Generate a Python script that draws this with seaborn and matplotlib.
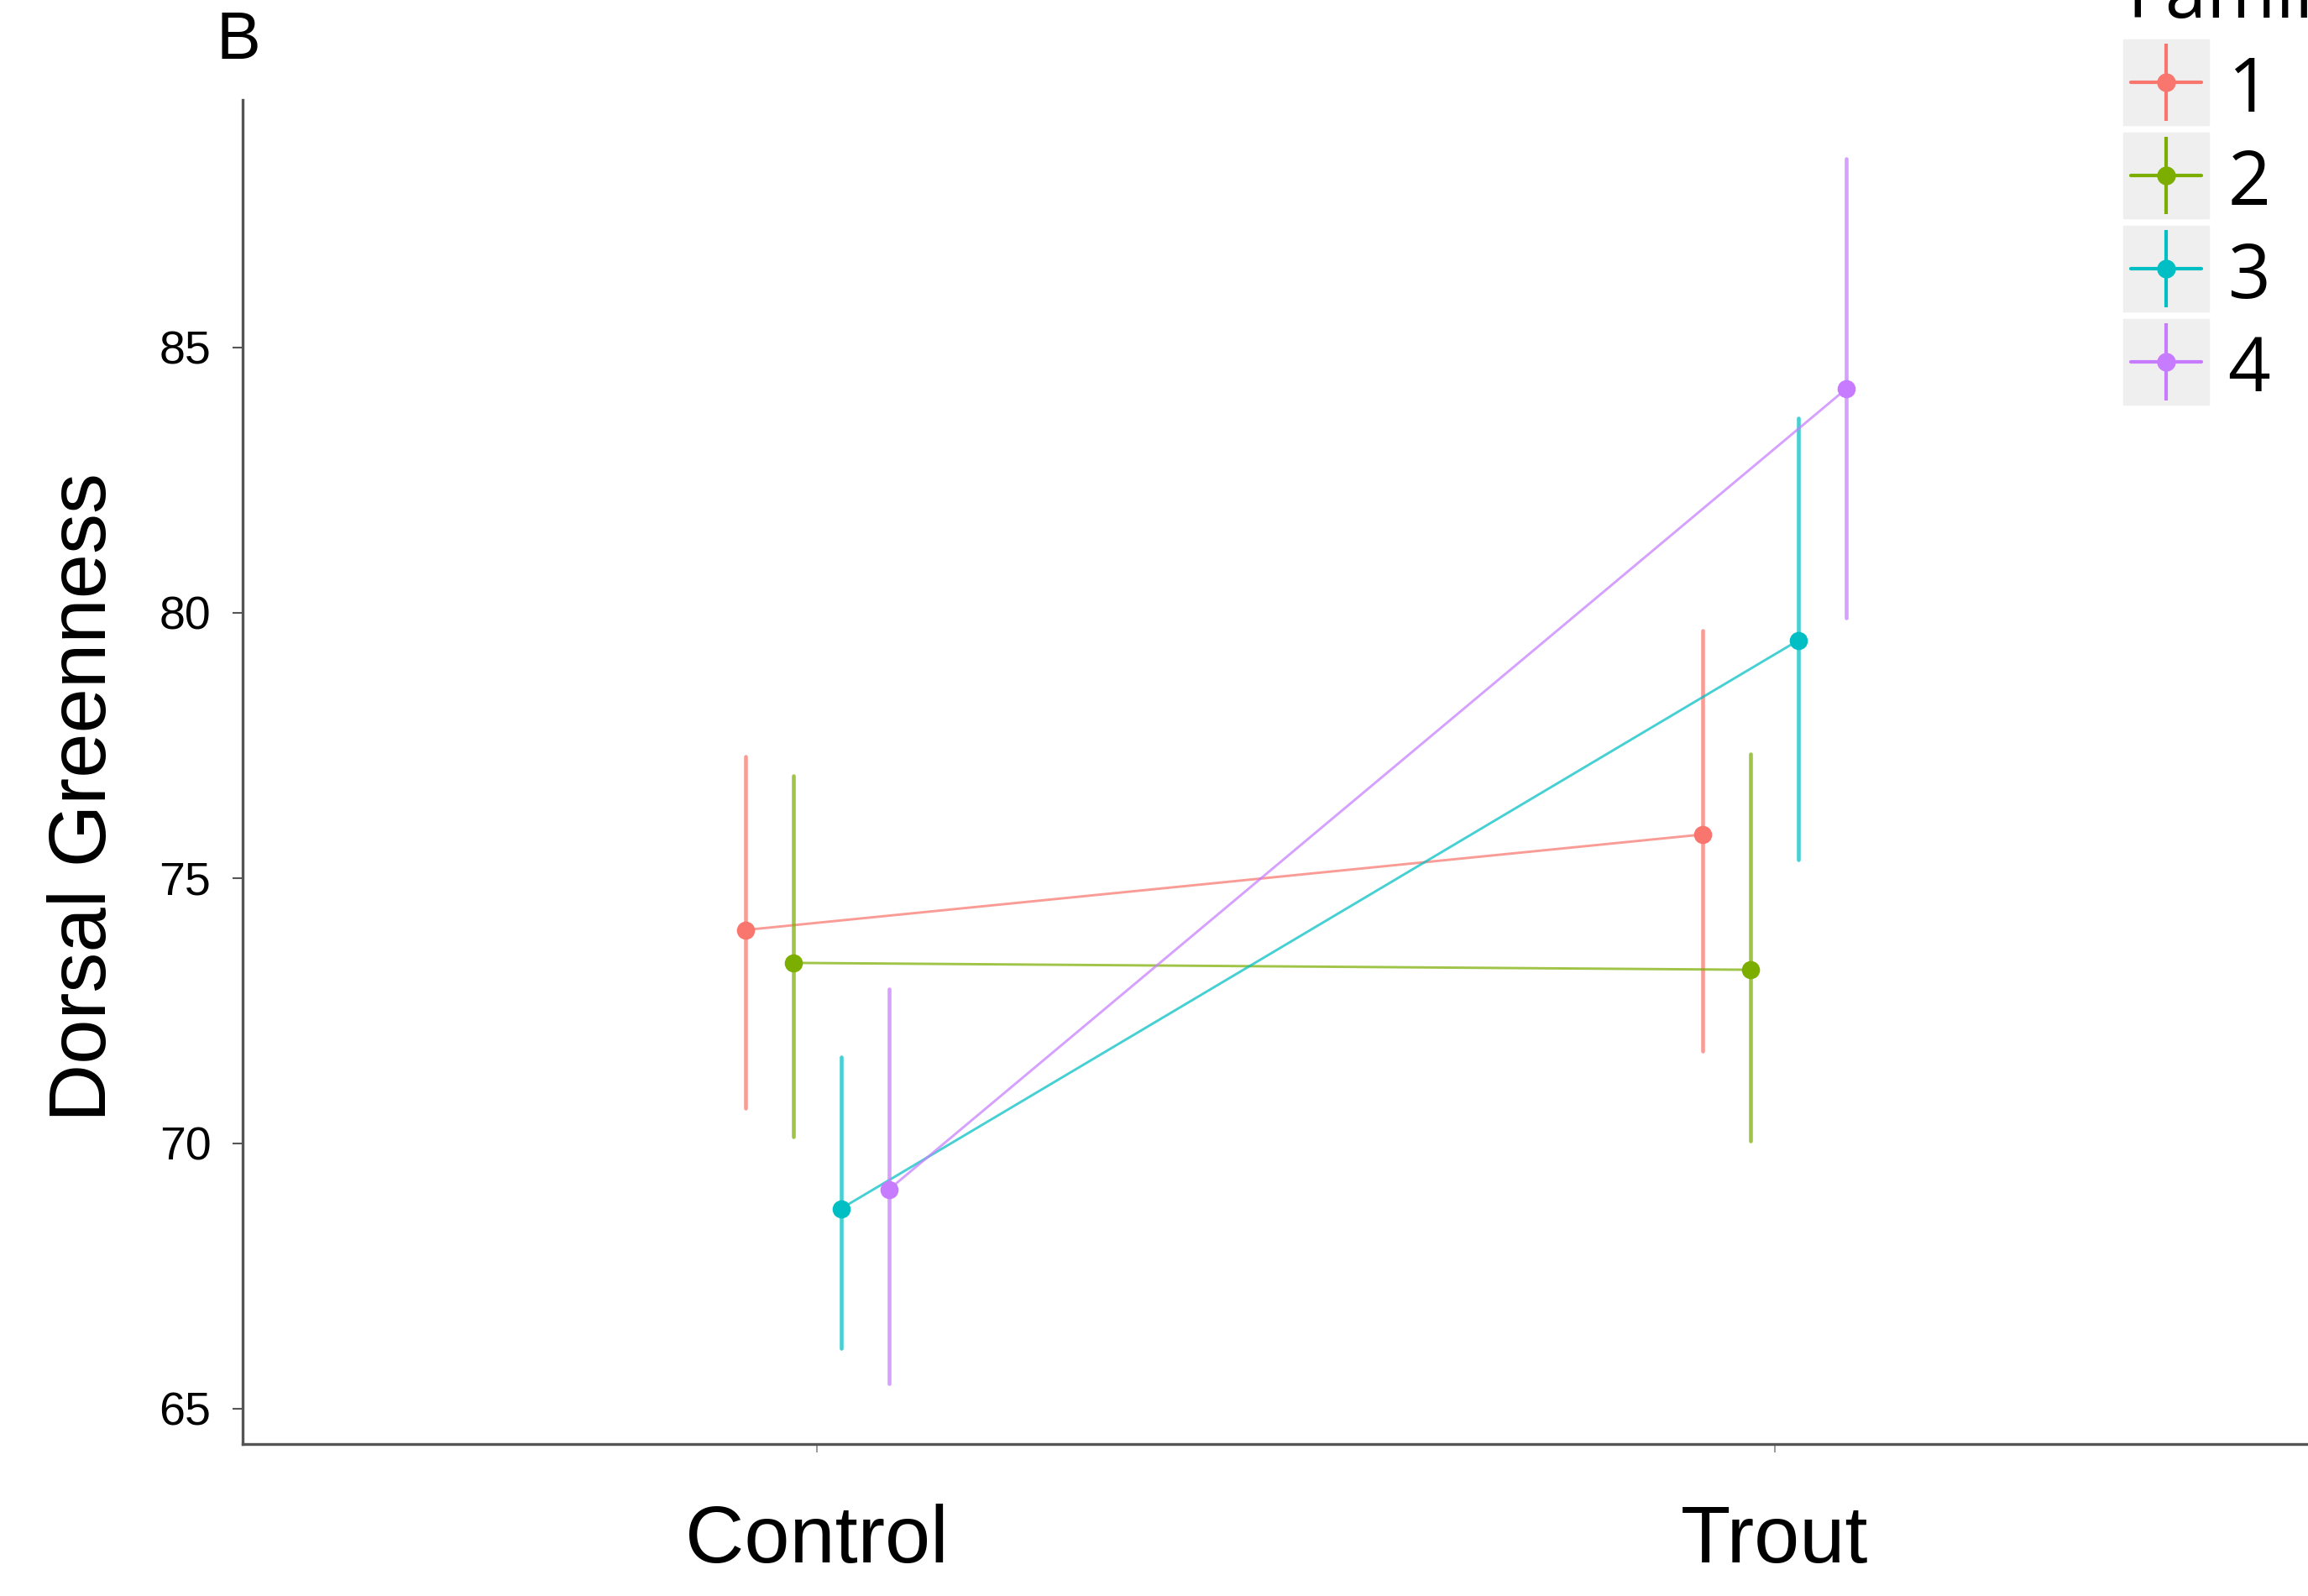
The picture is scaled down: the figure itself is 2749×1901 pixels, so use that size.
import numpy as np
import pandas as pd
import matplotlib
matplotlib.use("Agg")
import matplotlib.pyplot as plt
import seaborn as sns
from matplotlib.lines import Line2D

# Treatment levels and families
treatments = ["Control", "Trout"]
families = ["1", "2", "3", "4"]

# Mean dorsal greenness per family (Control, Trout)
mean_f1 = [74.02, 75.82]
mean_f2 = [73.40, 73.27]
mean_f3 = [68.77, 79.48]
mean_f4 = [69.13, 84.22]

# Lower / upper ends of the error bars
lower_f1 = [70.66, 71.74]
lower_f2 = [70.13, 70.05]
lower_f3 = [66.14, 75.35]
lower_f4 = [65.47, 79.90]

upper_f1 = [77.29, 79.67]
upper_f2 = [76.93, 77.34]
upper_f3 = [71.63, 83.67]
upper_f4 = [72.91, 88.55]

y_ticks = [65, 70, 75, 80, 85]

palette = ["#F8766D", "#7CAE00", "#00BFC4", "#C77CFF"]

means = [mean_f1, mean_f2, mean_f3, mean_f4]
lowers = [lower_f1, lower_f2, lower_f3, lower_f4]
uppers = [upper_f1, upper_f2, upper_f3, upper_f4]

# Long table: median of (lower, mean, upper) is the mean, full range is the bar
rows = []
for fam, m, lo, hi in zip(families, means, lowers, uppers):
    for t, mv, lv, hv in zip(treatments, m, lo, hi):
        for v in (lv, mv, hv):
            rows.append({"Treatment": t, "Family": fam, "Greenness": v})
df = pd.DataFrame(rows)

sns.set_style("ticks")
plt.rcParams["font.family"] = ["Liberation Sans", "DejaVu Sans"]
plt.rcParams["text.color"] = "black"
plt.rcParams["xtick.labelcolor"] = "black"
plt.rcParams["ytick.labelcolor"] = "black"
plt.rcParams["axes.labelcolor"] = "black"

W, H = 2749, 1901
fig = plt.figure(figsize=(W / 100, H / 100), dpi=100)
ax = fig.add_axes([289 / W, 1 - 1720 / H, (2798 - 289) / W, (1720 - 119) / H])

sns.pointplot(
    data=df, x="Treatment", y="Greenness", hue="Family",
    order=treatments, hue_order=families, palette=palette,
    estimator="median", errorbar=("pi", 100),
    dodge=0.15, markers="o", linestyles="-",
    markersize=14, linewidth=2.1,
    err_kws={"linewidth": 3.3},
    legend=False, ax=ax,
)

# soften connecting lines and error bars, keep markers solid
for line in ax.lines:
    c = line.get_color()
    line.set_color(matplotlib.colors.to_rgba(c, 0.72))
    line.set_markerfacecolor(matplotlib.colors.to_rgba(c, 1.0))
    line.set_markeredgecolor(matplotlib.colors.to_rgba(c, 1.0))
for coll in ax.collections:
    coll.set_alpha(0.72)

ax.set_xlim(-0.6, 1.6)
ax.set_ylim(64.334, 89.66)
ax.set_yticks(y_ticks)
ax.set_yticklabels([str(v) for v in y_ticks])

sns.despine(ax=ax)
for side in ("left", "bottom"):
    ax.spines[side].set_color("#555555")
    ax.spines[side].set_linewidth(2.4)

ax.tick_params(axis="y", length=9, width=1.5, color="#555555", pad=18, labelsize=40)
ax.tick_params(axis="x", length=7, width=1.2, color="#888888", pad=44, labelsize=70)

ax.set_xlabel("")
ax.set_ylabel("Dorsal Greenness", fontsize=69)
ax.yaxis.set_label_coords(-0.057, 0.481)

# Legend: pointrange key on a grey square
handles = []
for c in palette:
    bg = Line2D([], [], marker="s", markersize=74, color="#EFEFEF", linestyle="none")
    hline = Line2D([], [], color=c, marker="o", markersize=15, linewidth=3)
    vline = Line2D([], [], color=c, marker="|", markersize=66, markeredgewidth=3, linestyle="none")
    handles.append((bg, hline, vline))

leg = fig.legend(
    handles, families, loc="upper left",
    bbox_to_anchor=(2538 / W, 1 - 63 / H),
    frameon=False, borderpad=0, borderaxespad=0,
    handlelength=0.95, handleheight=1.0, handletextpad=0.35,
    labelspacing=0.21,
    prop={"family": "Open Sans", "size": 64},
)

fig.text(2533 / W, 1 - 21 / H, "Family", fontsize=64, family="Open Sans", va="baseline")
fig.text(257 / W, 1 - 12 / H, "B", fontsize=57, va="top")

fig.savefig("out.png", dpi=100)
